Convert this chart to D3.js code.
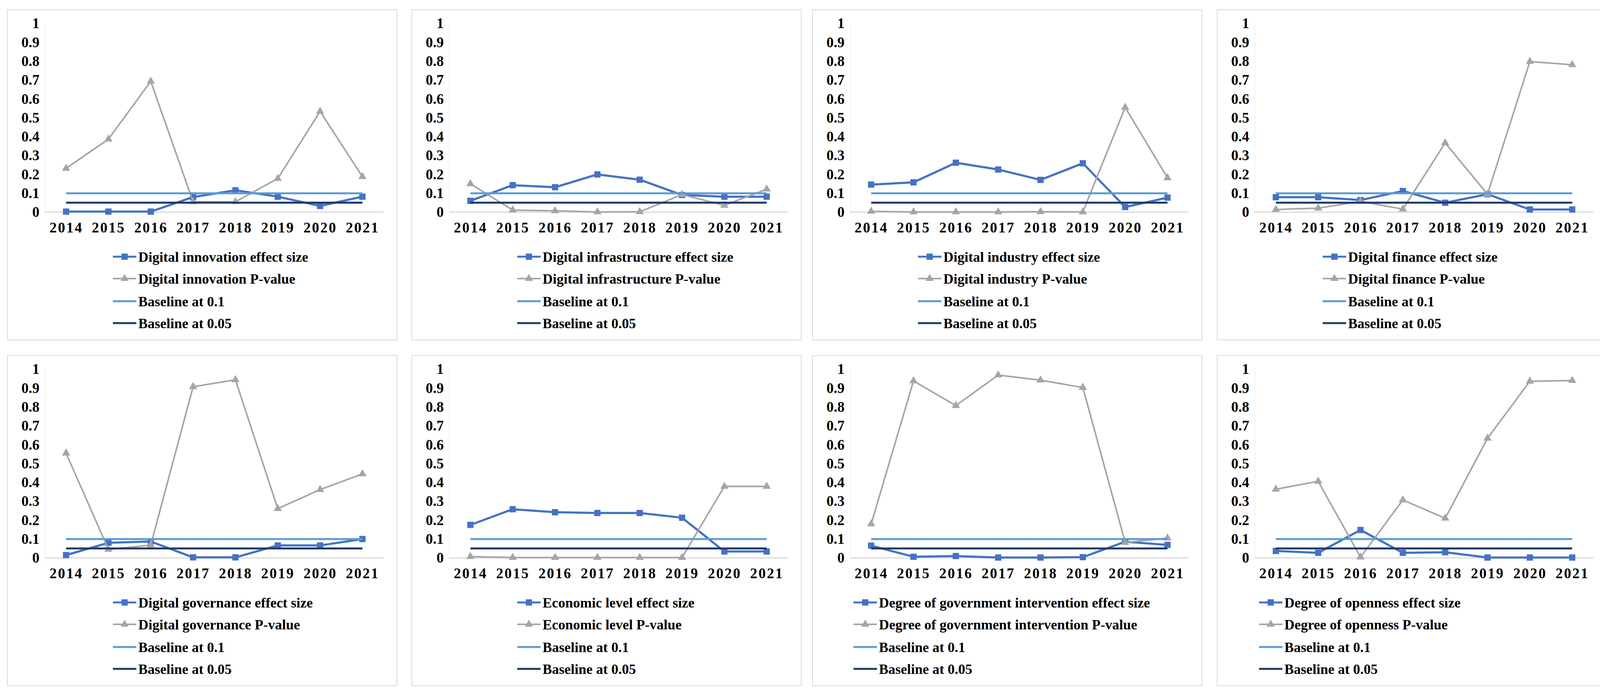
<!DOCTYPE html>
<html>
<head>
<meta charset="utf-8">
<script src="https://cdn.jsdelivr.net/npm/d3@7"></script>
<style>
  body { margin: 0; background: #fff; }
  text { font-family: "Liberation Serif", "Times New Roman", serif; font-weight: bold; fill: #000; }
</style>
</head>
<body>
<svg id="chart" width="4135" height="1784"></svg>
<script>
// years on the x axis, one list per panel for the two series
var years = [2014, 2015, 2016, 2017, 2018, 2019, 2020, 2021];

var variables = [
  'Digital innovation',
  'Digital infrastructure',
  'Digital industry',
  'Digital finance',
  'Digital governance',
  'Economic level',
  'Degree of government intervention',
  'Degree of openness'
];

var effectSize = [
  [0.003, 0.003, 0.003, 0.08, 0.116, 0.082, 0.033, 0.082],
  [0.06, 0.143, 0.132, 0.2, 0.172, 0.091, 0.082, 0.082],
  [0.146, 0.158, 0.262, 0.226, 0.171, 0.259, 0.027, 0.077],
  [0.079, 0.079, 0.064, 0.112, 0.05, 0.095, 0.014, 0.014],
  [0.015, 0.08, 0.087, 0.003, 0.003, 0.066, 0.066, 0.1],
  [0.175, 0.258, 0.242, 0.238, 0.238, 0.213, 0.034, 0.034],
  [0.065, 0.006, 0.01, 0.002, 0.002, 0.004, 0.086, 0.069],
  [0.037, 0.027, 0.148, 0.027, 0.03, 0.002, 0.002, 0.002]
];

var pValue = [
  [0.232, 0.387, 0.693, 0.055, 0.055, 0.178, 0.534, 0.188],
  [0.15, 0.011, 0.007, 0.001, 0.002, 0.093, 0.036, 0.122],
  [0.004, 0.001, 0.001, 0.001, 0.002, 0.001, 0.555, 0.182],
  [0.014, 0.021, 0.057, 0.016, 0.367, 0.095, 0.798, 0.781],
  [0.555, 0.045, 0.068, 0.907, 0.944, 0.261, 0.362, 0.445],
  [0.007, 0.002, 0.002, 0.002, 0.002, 0.002, 0.379, 0.379],
  [0.18, 0.938, 0.807, 0.969, 0.942, 0.903, 0.082, 0.105],
  [0.364, 0.406, 0.004, 0.307, 0.21, 0.634, 0.936, 0.94]
];

var baselineValues = [0.1, 0.05];
var baselineLabels = ['Baseline at 0.1', 'Baseline at 0.05'];
var yTicks = [0, 0.1, 0.2, 0.3, 0.4, 0.5, 0.6, 0.7, 0.8, 0.9, 1];

// layout of the 2x4 grid
var panelLeft = [19, 1054, 2080, 3116];
var panelTop = [25, 910];
var panelW = 997, panelH = 845;
var legendX = [300, 300, 300, 300, 300, 300, 135, 137];  // legend marker centre, per panel

var colors = {
  effect: '#4472C4',
  pval: '#A5A5A5',
  base1: '#5B9BD5',
  base05: '#1F3864'
};

var svg = d3.select('#chart');

var x = d3.scalePoint().domain(years).range([96, 963]).padding(0.5);
var y = d3.scaleLinear().domain([0, 1]).range([518, 35]);

var line = d3.line()
  .x(function (d, i) { return x(years[i]); })
  .y(function (d) { return y(d); });

var triangle = d3.symbol().type(d3.symbolTriangle).size(190);

function drawPanel(k) {
  var col = k % 4, row = Math.floor(k / 4);
  var g = svg.append('g')
    .attr('transform', 'translate(' + panelLeft[col] + ',' + panelTop[row] + ')');

  g.append('rect')
    .attr('x', 0).attr('y', 0)
    .attr('width', panelW).attr('height', panelH)
    .attr('fill', '#fff')
    .attr('stroke', '#D9D9D9')
    .attr('stroke-width', 2);

  // y axis: labels only, faint axis line
  var yAxis = g.append('g')
    .attr('transform', 'translate(96,0)')
    .call(d3.axisLeft(y).tickValues(yTicks).tickSize(0).tickPadding(14)
      .tickFormat(function (d) { return String(d); }));
  yAxis.select('.domain').attr('stroke', '#EBEBEB').attr('stroke-width', 1.5);
  yAxis.selectAll('text').style('font-size', '37px');

  // x axis
  var xAxis = g.append('g')
    .attr('transform', 'translate(0,518)')
    .call(d3.axisBottom(x).tickSize(0).tickPadding(26).tickSizeOuter(0));
  xAxis.select('.domain').attr('stroke', '#D9D9D9').attr('stroke-width', 3)
    .attr('d', 'M96,0H963');
  xAxis.selectAll('text').style('font-size', '37px').style('letter-spacing', '3px');

  // effect size
  g.append('path')
    .datum(effectSize[k])
    .attr('fill', 'none')
    .attr('stroke', colors.effect)
    .attr('stroke-width', 5.5)
    .attr('stroke-linejoin', 'round')
    .attr('d', line);
  g.selectAll('.sq')
    .data(effectSize[k])
    .enter().append('rect')
    .attr('x', function (d, i) { return x(years[i]) - 8; })
    .attr('y', function (d) { return y(d) - 8; })
    .attr('width', 16).attr('height', 16)
    .attr('fill', colors.effect);

  // p-value
  g.append('path')
    .datum(pValue[k])
    .attr('fill', 'none')
    .attr('stroke', colors.pval)
    .attr('stroke-width', 4)
    .attr('stroke-linejoin', 'round')
    .attr('d', line);
  g.selectAll('.tri')
    .data(pValue[k])
    .enter().append('path')
    .attr('d', triangle)
    .attr('transform', function (d, i) { return 'translate(' + x(years[i]) + ',' + y(d) + ')'; })
    .attr('fill', colors.pval);

  // baselines
  baselineValues.forEach(function (b, j) {
    g.append('path')
      .datum(years.map(function () { return b; }))
      .attr('fill', 'none')
      .attr('stroke', j == 0 ? colors.base1 : colors.base05)
      .attr('stroke-width', 5)
      .attr('d', line);
  });

  // legend
  var items = [
    {label: variables[k] + ' effect size', color: colors.effect, marker: 'square'},
    {label: variables[k] + ' P-value', color: colors.pval, marker: 'triangle'},
    {label: baselineLabels[0], color: colors.base1},
    {label: baselineLabels[1], color: colors.base05}
  ];
  var rowsY = [632, 688, 746, 802];
  var lg = g.append('g');
  items.forEach(function (it, i) {
    var cx = legendX[k], cy = rowsY[i];
    lg.append('line')
      .attr('x1', cx - 30).attr('x2', cx + 30)
      .attr('y1', cy).attr('y2', cy)
      .attr('stroke', it.color)
      .attr('stroke-width', it.marker == 'triangle' ? 4 : 5);
    if (it.marker == 'square') {
      lg.append('rect').attr('x', cx - 8).attr('y', cy - 8)
        .attr('width', 16).attr('height', 16).attr('fill', it.color);
    } else if (it.marker == 'triangle') {
      lg.append('path').attr('d', triangle)
        .attr('transform', 'translate(' + cx + ',' + cy + ')')
        .attr('fill', it.color);
    }
    lg.append('text')
      .attr('x', cx + 35).attr('y', cy)
      .attr('dy', '0.35em')
      .style('font-size', '36px')
      .text(it.label);
  });
}

for (var k = 0; k < variables.length; k++) drawPanel(k);
</script>
</body>
</html>
